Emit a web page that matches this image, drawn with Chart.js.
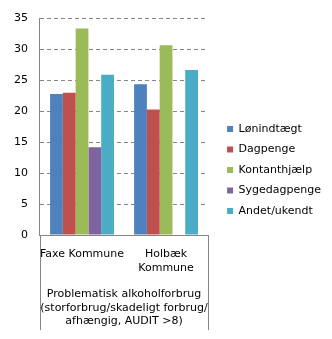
<!DOCTYPE html>
<html>
<head>
<meta charset="utf-8">
<script src="https://cdn.jsdelivr.net/npm/chart.js@4.4.1/dist/chart.umd.min.js"></script>
<style>
  body { margin: 0; background: #fff; }
  #wrap { width: 332px; height: 339px; }
</style>
</head>
<body>
<div id="wrap"><canvas id="chart"></canvas></div>
<script>
const categories = [['Faxe Kommune'], ['Holbæk', 'Kommune']];
const groupLabel = ['Problematisk alkoholforbrug', '(storforbrug/skadeligt forbrug/', 'afhængig, AUDIT >8)'];

const lonindtaegt = [22.8, 24.4];
const dagpenge = [23.0, 20.3];
const kontanthjaelp = [33.4, 30.7];
const sygedagpenge = [14.2, null];
const andet = [25.9, 26.7];

const seriesNames = ['Lønindtægt', 'Dagpenge', 'Kontanthjælp', 'Sygedagpenge', 'Andet/ukendt'];
const seriesColors = ['#4F81BD', '#C0504D', '#9BBB59', '#8064A2', '#4BACC6'];
const seriesValues = [lonindtaegt, dagpenge, kontanthjaelp, sygedagpenge, andet];

const axisColor = '#868686';
const font = { family: 'DejaVu Sans', size: 11 };

// lodrette streger i kategori-feltet under x-aksen
const boxLines = {
    id: 'boxLines',
    afterDraw(chart) {
        const { ctx, chartArea } = chart;
        ctx.save();
        ctx.strokeStyle = axisColor;
        ctx.lineWidth = 1;
        ctx.beginPath();
        for (const x of [chartArea.left, chartArea.right]) {
            const px = Math.round(x) + 0.5;
            ctx.moveTo(px, chartArea.bottom);
            ctx.lineTo(px, chart.height - 9);
        }
        ctx.stroke();
        ctx.restore();
    }
};

const datasets = [];
for (let i = 0; i < seriesNames.length; i++) {
    datasets.push({
        label: seriesNames[i],
        data: seriesValues[i],
        backgroundColor: seriesColors[i],
        borderWidth: 0,
        categoryPercentage: 0.76,
        barPercentage: 1
    });
}

new Chart(document.getElementById('chart'), {
    type: 'bar',
    data: { labels: categories, datasets },
    plugins: [boxLines],
    options: {
        responsive: true,
        maintainAspectRatio: false,
        animation: false,
        layout: { autoPadding: false, padding: { left: 2, top: 12, right: 1, bottom: 11 } },
        scales: {
            y: {
                min: 0,
                max: 35,
                ticks: { stepSize: 5, color: '#000', font, padding: 12 },
                grid: { color: axisColor, drawTicks: false },
                border: { display: true, color: axisColor, dash: [4, 3] }
            },
            // tom akse, giver luft mellem plot og forklaring
            spacer: {
                type: 'linear',
                position: 'right',
                ticks: { display: false },
                grid: { display: false, drawTicks: false },
                border: { display: false },
                afterFit(scale) { scale.width = 9.5; }
            },
            x: {
                ticks: { color: '#000', font, padding: 13, maxRotation: 0, autoSkip: false },
                grid: { display: false, drawTicks: false },
                border: { display: true, color: axisColor }
            },
            x2: {
                type: 'category',
                position: 'bottom',
                labels: [groupLabel],
                ticks: { color: '#000', font, padding: 0.5, maxRotation: 0 },
                grid: { display: false, drawTicks: false },
                border: { display: false }
            }
        },
        plugins: {
            legend: {
                position: 'right',
                maxWidth: 130,
                labels: { boxWidth: 6, boxHeight: 6, padding: 9.5, color: '#000', font }
            },
            tooltip: { enabled: false }
        }
    }
});
</script>
</body>
</html>
